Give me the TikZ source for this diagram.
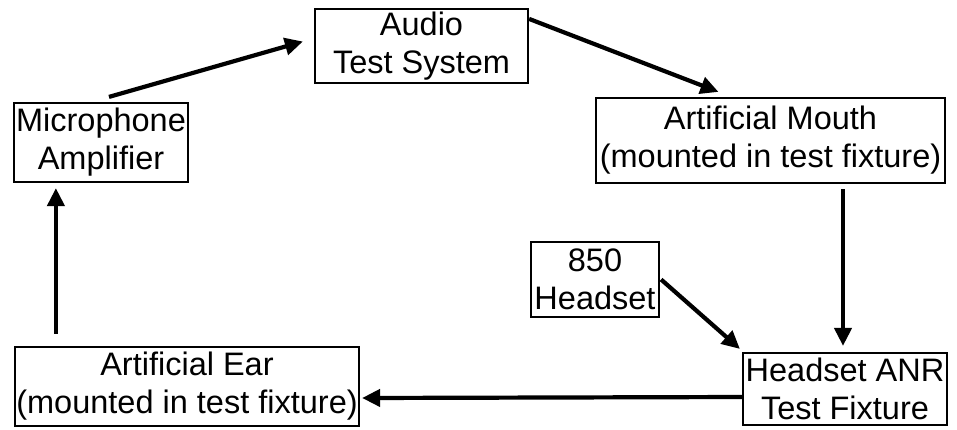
\documentclass[tikz,border=0pt]{standalone}
\usepackage{fontspec}
\setmainfont{Liberation Sans}
\usetikzlibrary{arrows.meta}
\begin{document}
\begin{tikzpicture}[x=1pt,y=-1pt,
  box/.style={draw=black,line width=2.2pt,rectangle,inner sep=0pt,align=center,
    font=\fontsize{32.5}{38}\selectfont},
  conn/.style={line width=4.2pt,-{Triangle[length=18pt,width=17pt]}}]
\useasboundingbox (0,0) rectangle (957,429);
\node[box,minimum width=213pt,minimum height=74pt] (audio) at (421.5,46) {Audio\\Test System};
\node[box,minimum width=174pt,minimum height=79pt] (mic) at (101,142.5) {Microphone\\Amplifier};
\node[box,minimum width=349pt,minimum height=85pt] (mouth) at (770.5,140.5) {Artificial Mouth\\(mounted in test fixture)};
\node[box,minimum width=128pt,minimum height=75pt] (h850) at (595,279.5) {850\\Headset};
\node[box,minimum width=204pt,minimum height=72pt] (anr) at (845,389) {Headset ANR\\Test Fixture};
\node[box,minimum width=344pt,minimum height=79pt] (ear) at (187,386.5) {Artificial Ear\\(mounted in test fixture)};
\draw[conn] ([xshift=8pt,yshift=5pt]mic.north) -- ([xshift=-11pt,yshift=4.5pt]audio.west);
\draw[conn] ([yshift=-11pt]audio.north east) -- ([xshift=-52pt,yshift=5pt]mouth.north);
\draw[conn] ([xshift=72.5pt,yshift=-5pt]mouth.south) -- ([xshift=-2pt,yshift=6pt]anr.north);
\draw[conn] ([xshift=1pt]h850.east) -- ([xshift=-2pt,yshift=3pt]anr.north west);
\draw[conn] ([yshift=-8pt]anr.west) -- ([xshift=2pt,yshift=-11.5pt]ear.east);
\draw[conn] ([xshift=42pt,yshift=12pt]ear.north west) -- ([xshift=43pt,yshift=-5pt]mic.south west);
\end{tikzpicture}
\end{document}
